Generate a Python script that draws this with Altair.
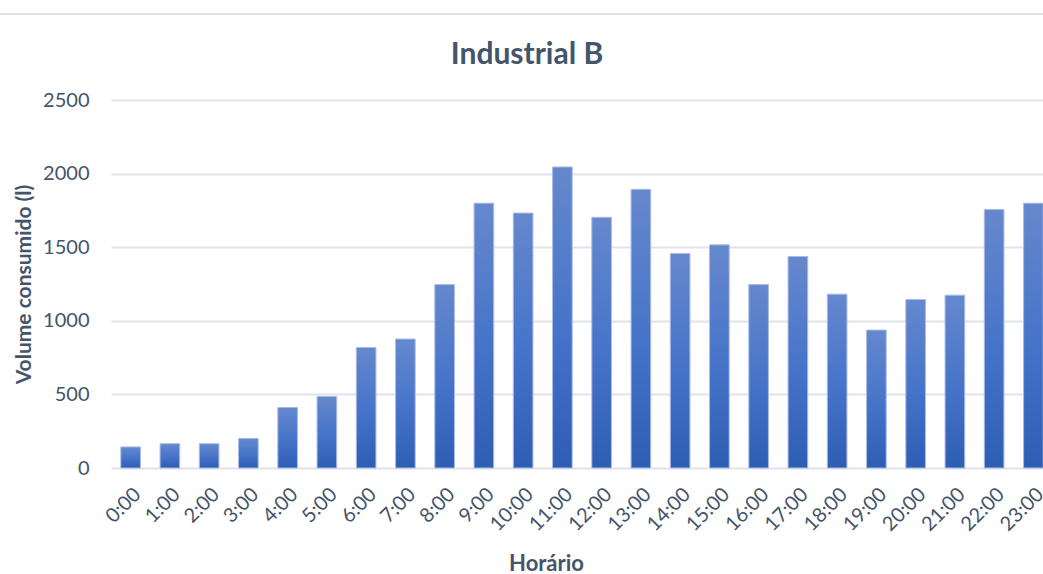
import altair as alt
import pandas as pd

horas = [f"{h}:00" for h in range(24)]
volumes = [143, 165, 165, 201, 411, 486, 819, 876, 1246, 1799, 1732, 2045,
           1703, 1893, 1457, 1516, 1246, 1437, 1181, 937, 1145, 1174, 1756, 1799]
titulo = ["Industrial B"]

df = pd.DataFrame({"Horário": horas, "Volume": volumes})
df_t = pd.DataFrame({"t": titulo})

TXT = "#44546a"
FONT = "Lato"

grad = alt.Gradient(
    gradient="linear",
    stops=[alt.GradientStop(color="#6688cd", offset=0),
           alt.GradientStop(color="#4573c9", offset=0.55),
           alt.GradientStop(color="#2e5db4", offset=1)],
    x1=0, x2=0, y1=0, y2=1,
)

bars = alt.Chart(df).mark_bar(
    color=grad, stroke="#a7bbe6", strokeWidth=1
).encode(
    x=alt.X("Horário:N", sort=horas,
            scale=alt.Scale(paddingInner=0.5, paddingOuter=0.25, range=[0, 942]),
            axis=alt.Axis(title="Horário", labelAngle=-45, labelFontSize=20,
                          labelColor=TXT, labelFont=FONT, labelPadding=16,
                          ticks=False, domain=False, grid=False,
                          titleFont=FONT, titleFontSize=22, titleColor=TXT,
                          titleFontWeight="bold", titleX=435, titleY=102,
                          titleBaseline="alphabetic")),
    y=alt.Y("Volume:Q",
            scale=alt.Scale(domain=[0, 2500], nice=False),
            axis=alt.Axis(title="Volume consumido (l)", values=[0, 500, 1000, 1500, 2000, 2500],
                          format="d",
                          labelFontSize=20, labelColor=TXT, labelFont=FONT,
                          labelPadding=22, ticks=False, domain=False,
                          gridColor="#e0e3e9", gridWidth=2,
                          titleFont=FONT, titleFontSize=21, titleColor=TXT,
                          titleFontWeight="bold", titlePadding=8)),
)

border = alt.Chart(df).mark_rule(color="#e0e3e9", strokeWidth=2).encode(
    x=alt.value(-111), x2=alt.value(932), y=alt.value(-86)
)

title = alt.Chart(df_t).mark_text(
    font=FONT, fontSize=30, fontWeight="bold", color=TXT,
    align="center", baseline="alphabetic"
).encode(
    text="t:N", x=alt.value(416), y=alt.value(-36)
)

chart = alt.layer(border, bars, title).properties(
    width=932, height=368,
    padding={"left": 111, "top": 100, "right": 0, "bottom": 106},
    autosize=alt.AutoSizeParams(type="none"),
).configure_view(stroke=None)

chart.save("out.html", embed_options={"renderer": "svg", "actions": False})
